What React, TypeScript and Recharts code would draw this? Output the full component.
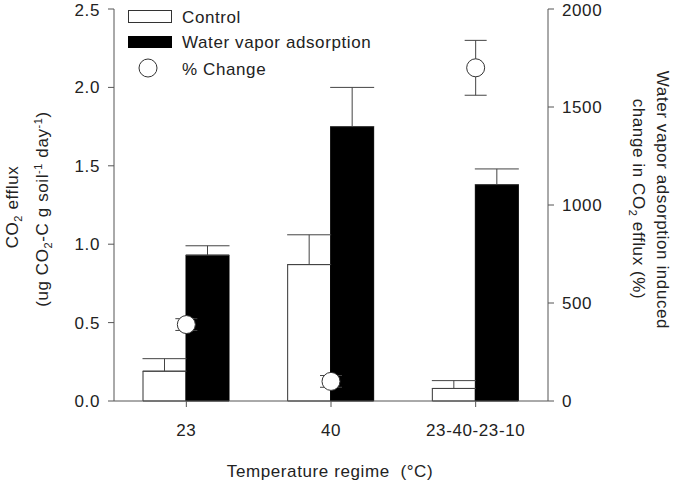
import React from 'react';
import { ComposedChart, Bar, Scatter, XAxis, YAxis, ErrorBar } from 'recharts';

// values
const regimes = ['23', '40', '23-40-23-10'];
const controlMean = [0.19, 0.87, 0.08];
const controlErr = [0.08, 0.19, 0.05];
const vaporMean = [0.93, 1.75, 1.38];
const vaporErr = [0.06, 0.25, 0.1];
const pctChange = [390, 100, 1700];
const pctErr = [30, 30, 140];

const leftTicks = [0, 0.5, 1.0, 1.5, 2.0, 2.5];
const rightTicks = [0, 500, 1000, 1500, 2000];

const seriesNames = ['Control', 'Water vapor adsorption', '% Change'];

const FONT = '"Liberation Sans", Arial, sans-serif';
const AXIS = '#555';
const INK = '#222';
const FS = 17;
const LS = 0.6;

const chartData = regimes.map((name, i) => ({
  name,
  control: controlMean[i],
  controlErr: [0, controlErr[i]],
  vapor: vaporMean[i],
  vaporErr: [0, vaporErr[i]],
  pct: pctChange[i],
  pctErr: pctErr[i],
}));

const tickStyle = { fontSize: FS, fill: INK, fontFamily: FONT, letterSpacing: LS };

const PctDot = (props: any) => {
  const { cx, cy } = props;
  return <circle cx={cx} cy={cy} r={9} fill="#fff" stroke="#333" strokeWidth={1} />;
};

const Overlay = () => (
  <svg
    width={675}
    height={484}
    style={{ position: 'absolute', left: 0, top: 0, pointerEvents: 'none' }}
    fontFamily={FONT}
    fontSize={FS}
    letterSpacing={LS}
    fill={INK}
  >
    {/* legend */}
    <rect x={128.5} y={10.5} width={43} height={12} fill="#fff" stroke="#333" />
    <text x={182} y={23}>{seriesNames[0]}</text>
    <rect x={128.5} y={36.5} width={43} height={11} fill="#000" stroke="#000" />
    <text x={182} y={48}>{seriesNames[1]}</text>
    <circle cx={148} cy={68} r={9} fill="#fff" stroke="#333" />
    <text x={182} y={75}>{seriesNames[2]}</text>

    {/* left axis title */}
    <text transform="translate(18,207) rotate(-90)" textAnchor="middle">
      CO<tspan fontSize={11} dy={4}>2</tspan><tspan dy={-4}> efflux</tspan>
    </text>
    <text transform="translate(48,209) rotate(-90)" textAnchor="middle">
      (ug CO<tspan fontSize={11} dy={4}>2</tspan><tspan dy={-4}>-C g soil</tspan>
      <tspan fontSize={11} dy={-6}>-1</tspan><tspan dy={6}> day</tspan>
      <tspan fontSize={11} dy={-6}>-1</tspan><tspan dy={6}>)</tspan>
    </text>

    {/* right axis title */}
    <text transform="translate(657,200) rotate(90)" textAnchor="middle">
      Water vapor adsorption induced
    </text>
    <text transform="translate(633,199) rotate(90)" textAnchor="middle">
      change in CO<tspan fontSize={11} dy={4}>2</tspan><tspan dy={-4}> efflux (%)</tspan>
    </text>

    {/* x axis title */}
    <text x={330} y={477} textAnchor="middle">
      {'Temperature regime\u00a0\u00a0(°C)'}
    </text>
  </svg>
);

export default function App() {
  return (
    <div style={{ position: 'absolute', left: 0, top: 0, width: 675, height: 484, background: '#fff' }}>
      <ComposedChart
        width={675}
        height={484}
        data={chartData}
        margin={{ top: 9, right: 0, left: 0, bottom: 0 }}
        barGap={0}
      >
        <XAxis
          dataKey="name"
          height={83}
          tickSize={6}
          tickMargin={17}
          tick={tickStyle}
          axisLine={{ stroke: AXIS }}
          tickLine={{ stroke: AXIS }}
        />
        <YAxis
          yAxisId="left"
          width={114}
          domain={[0, 2.5]}
          ticks={leftTicks}
          tickFormatter={(v: number) => v.toFixed(1)}
          tickSize={6}
          tickMargin={8}
          tick={tickStyle}
          axisLine={{ stroke: AXIS }}
          tickLine={{ stroke: AXIS }}
        />
        <YAxis
          yAxisId="right"
          orientation="right"
          width={127}
          domain={[0, 2000]}
          ticks={rightTicks}
          tickSize={6}
          tickMargin={8}
          tick={tickStyle}
          axisLine={{ stroke: AXIS }}
          tickLine={{ stroke: AXIS }}
        />
        <Bar
          yAxisId="left"
          dataKey="control"
          name={seriesNames[0]}
          fill="#fff"
          stroke="#333"
          strokeWidth={1}
          barSize={43}
          isAnimationActive={false}
        >
          <ErrorBar dataKey="controlErr" width={22} stroke="#444" strokeWidth={1} direction="y" />
        </Bar>
        <Bar
          yAxisId="left"
          dataKey="vapor"
          name={seriesNames[1]}
          fill="#000"
          stroke="#000"
          barSize={43}
          isAnimationActive={false}
        >
          <ErrorBar dataKey="vaporErr" width={22} stroke="#444" strokeWidth={1} direction="y" />
        </Bar>
        <Scatter
          yAxisId="right"
          dataKey="pct"
          name={seriesNames[2]}
          shape={PctDot}
          isAnimationActive={false}
        >
          <ErrorBar dataKey="pctErr" width={11} stroke="#444" strokeWidth={1} direction="y" />
        </Scatter>
      </ComposedChart>
      <Overlay />
    </div>
  );
}
